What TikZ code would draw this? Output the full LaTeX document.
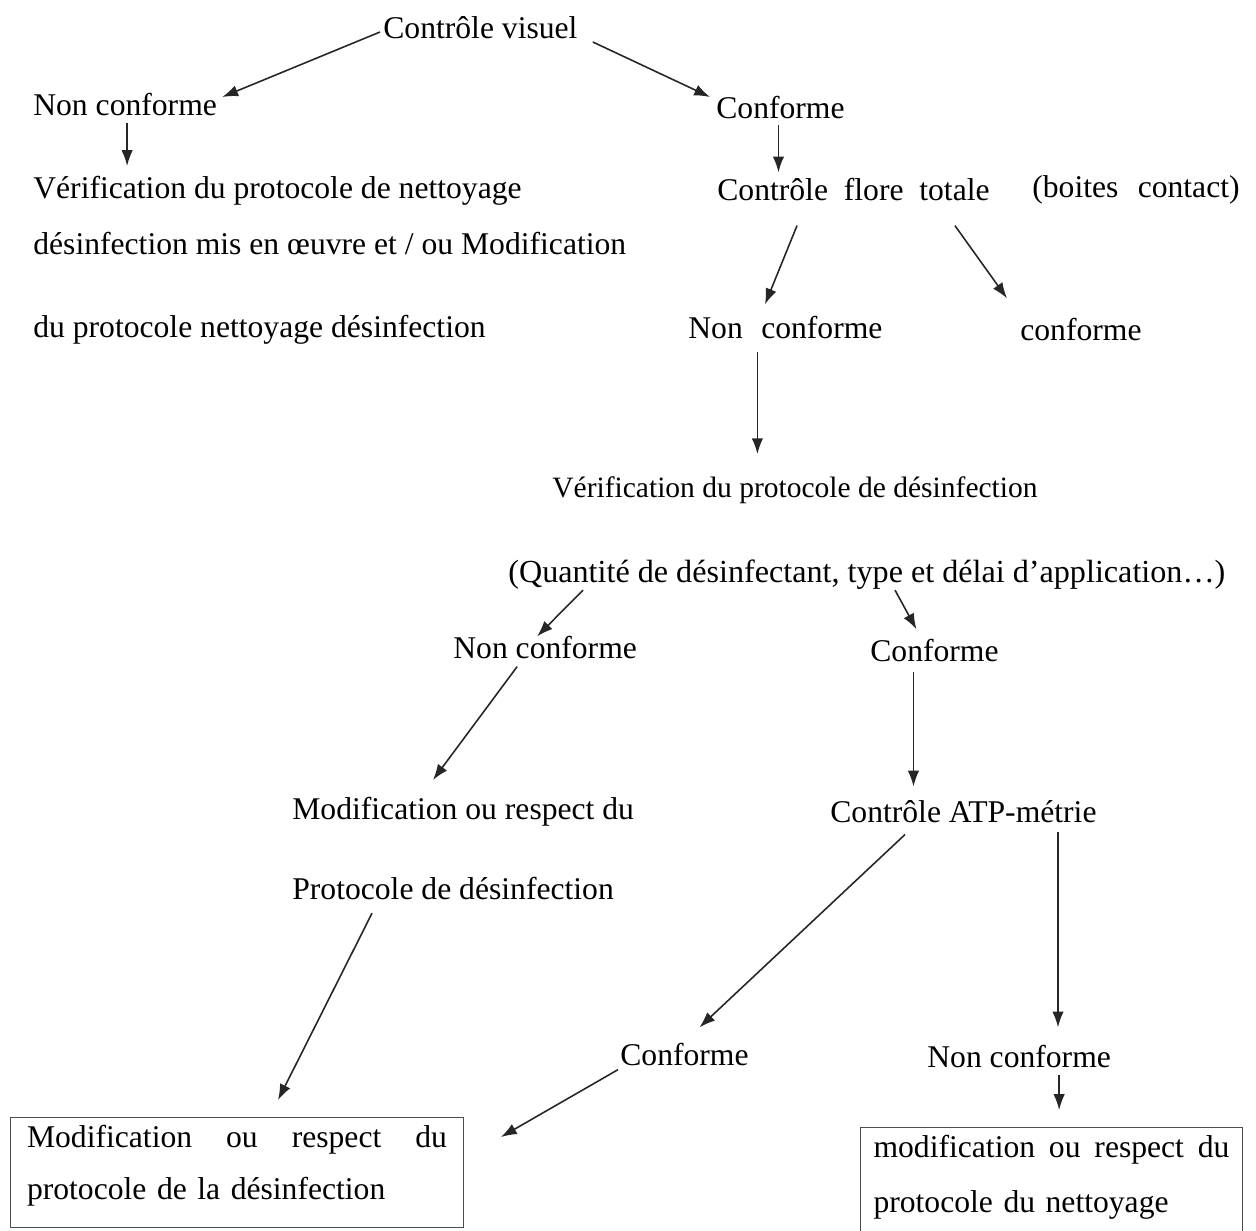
\documentclass[tikz,border=0pt]{standalone}
\usepackage{fontspec}
\setmainfont{Liberation Serif}
\usetikzlibrary{arrows.meta,positioning,calc}

\tikzset{
  lbl/.style={inner sep=0pt,anchor=west},
  arr/.style={-{Latex[length=9pt,width=6.5pt]},line width=0.9pt,draw=black!85},
  outbox/.style={draw=black!70,line width=0.6pt,anchor=north west,align=left,inner ysep=0.16cm}
}

\begin{document}
\begin{tikzpicture}[x=0.02cm,y=-0.02cm,font=\fontsize{18}{22}\selectfont]
  \useasboundingbox (0,0) rectangle (1256,1230);

  % Visual check
  \node[lbl] (cv) at (383,28) {Contrôle visuel};
  \node[lbl] (nc1) at (33,105) {Non conforme};
  \node[lbl,anchor=north west,align=left] (vp1) at (33,176) {
    Vérification du protocole de nettoyage\\[9.9pt]
    désinfection mis en œuvre et / ou Modification\\[25.2pt]
    du protocole nettoyage désinfection
  };
  \node[lbl] (c1) at (716,108) {Conforme};

  % Total flora check
  \node[lbl] (cft) at (717,190) {Contrôle\hspace{4.5pt} flore\hspace{4.5pt} totale};
  \node[lbl] (bc) at (1032,190) {(boites\hspace{6.5pt} contact)};
  \node[lbl] (nc2) at (688,328) {Non\hspace{6pt} conforme};
  \node[lbl] (c2) at (1020,330) {conforme};

  % Disinfection protocol
  \node[lbl,font=\fontsize{16.8}{20}\selectfont] (vd) at (552,490) {Vérification du protocole de désinfection};
  \node[lbl,font=\fontsize{18.3}{22}\selectfont] (qd) at (508,575) {(Quantité de désinfectant, type et délai d’application…)};
  \node[lbl] (nc3) at (453,648) {Non conforme};
  \node[lbl] (c3) at (870,651) {Conforme};
  \node[lbl,anchor=north west,align=left] (mr) at (292,797) {
    Modification ou respect du\\[23.5pt]
    Protocole de désinfection
  };
  \node[lbl] (atp) at (830,812) {Contrôle ATP-métrie};
  \node[lbl] (c4) at (620,1055) {Conforme};
  \node[lbl] (nc4) at (927,1057) {Non conforme};

  % Final boxes
  \node[outbox,text width=8.4cm,inner xsep=0.33cm] (box1) at (10,1117) {
    Modification\hfill ou\hfill respect\hfill du\\[7.6pt]
    protocole de la désinfection\rule[-11pt]{0pt}{1pt}
  };
  \node[outbox,text width=7.12cm,inner xsep=0.26cm] (box2) at (860,1127) {
    modification\hfill ou\hfill respect\hfill du\\[9pt]
    protocole du nettoyage\rule[-14pt]{0pt}{1pt}
  };

  % Arrows
  \draw[arr] ($(cv.west)+(-3,4)$) -- ($(nc1.east)+(5,-8)$);
  \draw[arr] ($(cv.east)+(15,14)$) -- ($(c1.west)+(-6,-11)$);
  \draw[arr] ($(nc1.south)+(2,6)$) -- ($(nc1.south |- vp1.north)+(2,-10)$);
  \draw[arr] ($(c1.south)+(-2,5)$) -- ($(c1.south |- cft.north)+(-2,-6)$);
  \draw[arr] ($(cft.south west)+(80,24)$) -- ($(nc2.north west)+(77,-12)$);
  \draw[arr] ($(cft.south east)+(-35,24)$) -- ($(c2.north west)+(-13,-20)$);
  \draw[arr] ($(nc2.south)+(-28,12)$) -- ($(nc2.south |- vd.north)+(-28,-22)$);
  \draw[arr] ($(qd.south west)+(75,0)$) -- ($(nc3.north)+(-8,0)$);
  \draw[arr] ($(qd.south west)+(387,0)$) -- ($(c3.north)+(-18,-10)$);
  \draw[arr] ($(nc3.south)+(-28,7)$) -- ($(mr.north west)+(141,-17)$);
  \draw[arr] ($(c3.south)+(-21,9)$) -- ($(c3.south |- atp.north)+(-21,-14)$);
  \draw[arr] ($(atp.south west)+(75,11)$) -- ($(c4.north)+(15,-16)$);
  \draw[arr] ($(atp.south west)+(228,8)$) -- ($(atp.south west |- nc4.north)+(228,-18)$);
  \draw[arr] ($(mr.south west)+(80,13)$) -- ($(box1.north west)+(268,-17)$);
  \draw[arr] ($(c4.south west)+(-2,3)$) -- ($(box1.north east)+(37,20)$);
  \draw[arr] ($(nc4.south)+(40,6)$) -- ($(nc4.south |- box2.north)+(40,-17)$);

\end{tikzpicture}
\end{document}
